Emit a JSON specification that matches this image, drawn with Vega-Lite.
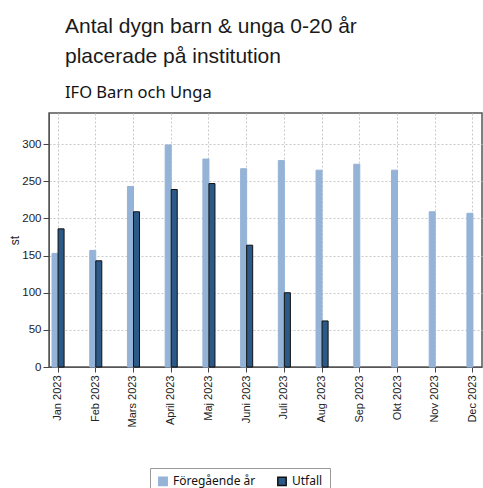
{
  "$schema": "https://vega.github.io/schema/vega-lite/v6.json",
  "width": 433,
  "height": 254,
  "autosize": {"type": "none"},
  "padding": {"left": 49, "top": 113, "right": 1, "bottom": 121},
  "background": "white",
  "title": {
    "text": ["Antal dygn barn & unga 0-20 år", "placerade på institution"],
    "subtitle": "IFO Barn och Unga",
    "anchor": "start",
    "frame": "group",
    "dx": 16,
    "offset": 12,
    "font": "Liberation Sans",
    "fontSize": 21,
    "fontWeight": "normal",
    "lineHeight": 30,
    "color": "#1a1a1a",
    "subtitleFont": "Noto Sans",
    "subtitleFontSize": 16.5,
    "subtitleColor": "#111111",
    "subtitlePadding": 18
  },
  "data": {
    "values": [
      {"month": "Jan 2023", "serie": "Föregående år", "value": 153},
      {"month": "Feb 2023", "serie": "Föregående år", "value": 157},
      {"month": "Mars 2023", "serie": "Föregående år", "value": 243},
      {"month": "April 2023", "serie": "Föregående år", "value": 299},
      {"month": "Maj 2023", "serie": "Föregående år", "value": 280},
      {"month": "Juni 2023", "serie": "Föregående år", "value": 267},
      {"month": "Juli 2023", "serie": "Föregående år", "value": 278},
      {"month": "Aug 2023", "serie": "Föregående år", "value": 265},
      {"month": "Sep 2023", "serie": "Föregående år", "value": 273},
      {"month": "Okt 2023", "serie": "Föregående år", "value": 265},
      {"month": "Nov 2023", "serie": "Föregående år", "value": 209},
      {"month": "Dec 2023", "serie": "Föregående år", "value": 207},
      {"month": "Jan 2023", "serie": "Utfall", "value": 186},
      {"month": "Feb 2023", "serie": "Utfall", "value": 143},
      {"month": "Mars 2023", "serie": "Utfall", "value": 209},
      {"month": "April 2023", "serie": "Utfall", "value": 239},
      {"month": "Maj 2023", "serie": "Utfall", "value": 247},
      {"month": "Juni 2023", "serie": "Utfall", "value": 164},
      {"month": "Juli 2023", "serie": "Utfall", "value": 100},
      {"month": "Aug 2023", "serie": "Utfall", "value": 62}
    ]
  },
  "mark": {"type": "bar", "strokeWidth": 1},
  "encoding": {
    "x": {
      "field": "month",
      "type": "nominal",
      "sort": ["Jan 2023", "Feb 2023", "Mars 2023", "April 2023", "Maj 2023", "Juni 2023", "Juli 2023", "Aug 2023", "Sep 2023", "Okt 2023", "Nov 2023", "Dec 2023"],
      "scale": {"paddingInner": 0.68, "paddingOuter": 0.08},
      "axis": {
        "title": null,
        "labelAngle": -90,
        "bandPosition": 0.5,
        "grid": true,
        "gridDash": [2, 2],
        "gridColor": "#c8c8c8",
        "tickColor": "#444444",
        "tickSize": 5,
        "domainColor": "#555555",
        "labelFont": "Liberation Sans",
        "labelFontSize": 11,
        "labelColor": "#222222",
        "labelPadding": 3
      }
    },
    "xOffset": {
      "field": "serie",
      "type": "nominal",
      "scale": {"paddingInner": 0, "paddingOuter": 0}
    },
    "y": {
      "field": "value",
      "type": "quantitative",
      "scale": {"domain": [0, 342], "nice": false},
      "axis": {
        "title": "st",
        "values": [0, 50, 100, 150, 200, 250, 300],
        "grid": true,
        "gridDash": [2, 2],
        "gridColor": "#c8c8c8",
        "tickColor": "#444444",
        "tickSize": 6,
        "domainColor": "#555555",
        "labelFont": "Liberation Sans",
        "labelFontSize": 11.5,
        "labelColor": "#222222",
        "labelPadding": 2,
        "titleFont": "Liberation Sans",
        "titleFontSize": 12,
        "titleFontWeight": "normal",
        "titleColor": "#222222",
        "titlePadding": 0
      }
    },
    "fill": {
      "field": "serie",
      "type": "nominal",
      "scale": {"domain": ["Föregående år", "Utfall"], "range": ["#95b3d7", "#2c5a88"]},
      "legend": {"title": null}
    },
    "stroke": {
      "field": "serie",
      "type": "nominal",
      "scale": {"domain": ["Föregående år", "Utfall"], "range": ["#95b3d7", "#111111"]},
      "legend": {"title": null}
    }
  },
  "config": {
    "view": {"stroke": "#555555", "strokeWidth": 1.5},
    "legend": {
      "orient": "none",
      "legendX": 101,
      "legendY": 355,
      "direction": "horizontal",
      "strokeColor": "#999999",
      "padding": 7,
      "symbolType": "square",
      "symbolSize": 70,
      "labelFont": "Noto Sans",
      "labelFontSize": 12,
      "labelColor": "#111111",
      "columnPadding": 18
    }
  }
}
